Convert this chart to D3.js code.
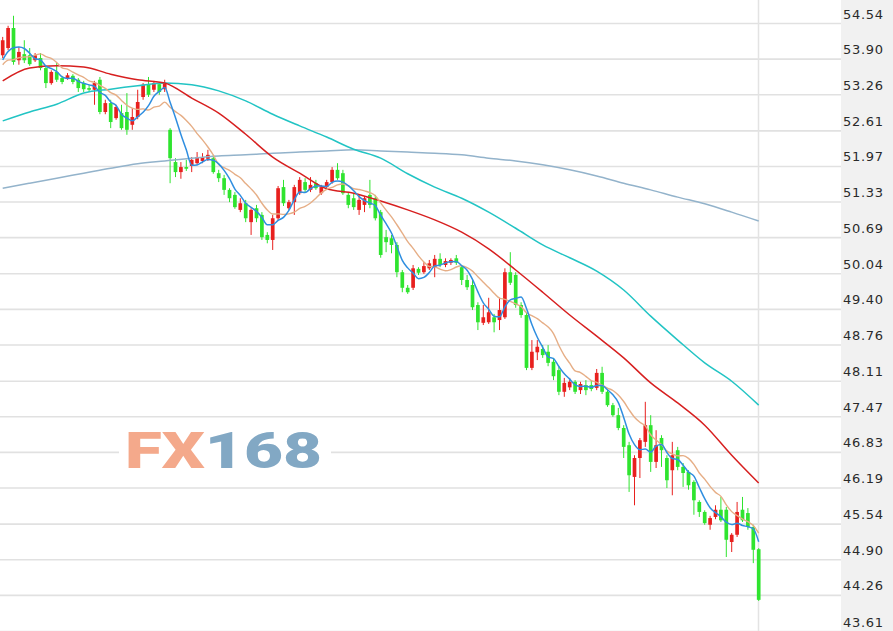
<!DOCTYPE html>
<html><head><meta charset="utf-8">
<script src="https://cdn.jsdelivr.net/npm/d3@7"></script>
<style>html,body{margin:0;padding:0;background:#fff;overflow:hidden}</style>
</head><body><svg id="c" width="893" height="631"></svg>
<script>
// ---- data ----
const yTicks = [54.54,53.90,53.26,52.61,51.97,51.33,50.69,50.04,49.40,48.76,48.11,47.47,46.83,46.19,45.54,44.90,44.26,43.61];

const open = [53.96,54.09,54.45,53.87,53.98,53.96,53.87,53.91,53.73,53.46,53.66,53.55,53.55,53.59,53.52,53.46,53.37,53.34,53.52,52.94,
53.10,52.83,52.92,52.94,52.71,52.85,53.21,53.43,53.34,53.44,53.35,52.62,52.04,51.86,51.95,51.97,52.02,52.06,52.10,52.11,
51.84,51.75,51.54,51.45,51.18,51.30,50.96,51.21,51.09,50.73,50.64,51.03,51.59,51.21,51.32,51.48,51.68,51.54,51.66,51.48,
51.59,51.68,51.90,51.84,51.45,51.39,51.18,51.27,51.45,51.39,51.14,50.69,50.67,50.55,50.06,49.78,49.78,50.12,50.06,50.13,
50.15,50.30,50.19,50.23,50.31,50.15,49.92,49.83,49.47,49.15,49.16,49.25,49.20,49.25,50.06,50.01,49.47,49.29,48.34,48.62,
48.68,48.63,48.45,48.30,47.91,47.99,48.09,47.94,48.03,48.03,47.98,48.25,47.91,47.67,47.49,47.26,46.95,46.38,46.72,47.01,
47.31,46.65,47.08,46.72,46.50,46.86,46.56,46.47,46.29,45.93,45.75,45.52,45.66,45.79,45.79,45.21,45.34,45.79,45.73,45.48,45.08];

const high = [54.29,54.49,54.67,54.11,54.23,54.09,54.00,54.00,53.77,53.69,53.82,53.59,53.64,53.62,53.55,53.50,53.43,53.50,53.57,53.16,
53.16,53.07,53.07,53.28,53.01,53.34,53.46,53.57,53.50,53.48,53.52,52.65,52.11,52.04,52.08,52.13,52.22,52.20,52.26,52.17,
51.90,51.81,51.57,51.50,51.39,51.36,51.21,51.27,51.14,50.78,51.09,51.61,51.72,51.36,51.63,51.77,51.75,51.77,51.72,51.63,
51.72,51.95,52.02,51.90,51.50,51.48,51.45,51.43,51.72,51.45,51.18,50.82,50.73,50.60,50.10,49.83,50.19,50.15,50.24,50.28,
50.37,50.40,50.31,50.31,50.37,50.19,50.01,49.92,49.52,49.47,49.60,49.31,49.60,50.13,50.42,50.06,49.52,49.34,48.84,48.84,
48.75,48.75,48.52,48.36,48.16,48.16,48.12,48.09,48.12,48.12,48.32,48.36,47.94,47.71,47.62,47.31,47.01,46.77,47.08,47.73,
47.49,47.22,47.13,46.77,47.01,46.92,46.63,46.50,46.32,45.96,45.78,45.68,45.87,46.02,45.84,45.37,45.93,46.02,45.82,45.52,45.10];

const low = [53.91,54.05,53.79,53.79,53.82,53.77,53.84,53.69,53.37,53.43,53.48,53.44,53.52,53.44,53.30,53.30,53.30,53.07,52.90,52.90,
52.65,52.80,52.62,52.53,52.62,52.81,53.16,53.21,53.30,53.25,53.30,51.66,51.77,51.74,51.88,51.86,51.99,52.02,52.06,51.83,
51.68,51.45,51.32,51.20,51.14,50.96,50.73,50.96,50.64,50.58,50.46,50.99,51.25,51.18,51.09,51.45,51.50,51.50,51.54,51.45,
51.55,51.65,51.72,51.45,51.21,51.18,51.09,51.14,51.21,50.99,50.32,50.42,50.40,49.97,49.70,49.67,49.74,50.01,50.03,50.10,
49.97,50.15,50.15,50.19,50.19,49.83,49.74,49.38,49.02,49.11,49.13,48.98,49.02,49.22,49.83,49.42,49.24,48.30,48.30,48.48,
48.52,48.37,48.12,47.85,47.82,47.94,47.87,47.87,47.85,47.92,47.94,47.87,47.64,47.46,47.22,46.72,46.11,45.87,46.36,46.92,
46.47,46.54,46.56,46.18,46.05,46.50,46.20,46.15,45.70,45.66,45.52,45.43,45.62,45.57,44.94,45.03,45.30,45.57,45.43,44.83,44.15];

const close = [54.23,54.45,53.84,54.02,53.87,53.80,53.96,53.73,53.46,53.66,53.52,53.48,53.60,53.48,53.37,53.35,53.34,53.46,52.94,53.10,
52.76,53.03,52.65,52.62,52.85,53.12,53.43,53.25,53.46,53.30,53.46,52.11,51.86,51.95,51.92,52.08,52.13,52.13,52.17,51.86,
51.75,51.54,51.39,51.23,51.30,51.03,51.18,51.03,50.69,50.64,51.03,51.57,51.30,51.32,51.59,51.72,51.54,51.63,51.57,51.59,
51.68,51.90,51.75,51.48,51.27,51.23,51.36,51.39,51.27,51.03,50.37,50.60,50.55,50.06,49.78,49.70,50.13,50.05,50.17,50.22,
50.30,50.19,50.26,50.28,50.23,49.92,49.79,49.43,49.16,49.25,49.34,49.16,49.38,50.06,49.87,49.47,49.29,48.34,48.63,48.72,
48.57,48.43,48.19,47.91,48.07,48.09,47.91,48.05,47.94,47.96,48.25,47.91,47.67,47.49,47.26,46.92,46.41,46.72,47.04,47.31,
46.65,46.95,46.86,46.32,46.77,46.56,46.45,46.23,45.96,45.75,45.55,45.64,45.79,45.60,45.25,45.34,45.75,45.60,45.48,45.07,44.17];

// closes before the visible window, estimated from where the short averages start
const priorCloses = [53.62,53.75,53.68,53.74,53.73,53.70,53.50,53.95,54.00];

// long averages, read every 5th bar
const maStep = 5;
const ma30 = [53.50,53.73,53.77,53.75,53.62,53.52,53.46,53.19,52.92,52.54,52.13,51.84,51.56,51.48,51.34,51.18,51.00,50.78,50.48,50.10,
49.70,49.29,48.91,48.52,48.07,47.71,47.31,46.77,46.27];
const ma60 = [52.78,52.94,53.08,53.28,53.35,53.41,53.46,53.43,53.32,53.14,52.90,52.69,52.49,52.27,52.11,51.83,51.59,51.39,51.14,50.85,
50.55,50.32,50.08,49.74,49.27,48.84,48.43,48.10,47.67];
const ma120 = [51.57,51.66,51.75,51.84,51.93,52.01,52.06,52.11,52.15,52.17,52.20,52.22,52.24,52.26,52.24,52.22,52.20,52.17,52.11,52.06,
51.99,51.90,51.79,51.66,51.54,51.41,51.29,51.14,50.98];

// ---- drawing ----
const svg = d3.select('#c');
const n = close.length;
const x = d3.scaleBand().domain(d3.range(n)).range([0, 761.4]).padding(0);
const y = d3.scaleLinear().domain([43.61, 54.54]).range([631, 23]);
const cx = i => x(i) + x.bandwidth() / 2;

svg.append('rect').attr('x',0).attr('y',0).attr('width',893).attr('height',631).attr('fill','#fff');
svg.append('rect').attr('x',841).attr('y',0).attr('width',52).attr('height',631).attr('fill','#f1f1f1');

const axis = d3.axisRight(y).tickValues(yTicks).tickSize(841).tickPadding(2).tickFormat(d3.format('.2f'));
const gA = svg.append('g').call(axis);
gA.select('.domain').remove();
gA.selectAll('line').attr('stroke','#e1e1e1').attr('stroke-width',1.6);
gA.selectAll('text').attr('dy',null).attr('y',-5).attr('fill','#2a2a2a')
  .style('font-family','"DejaVu Sans", Verdana, sans-serif').style('font-size','13px').style('letter-spacing','0.7px');

svg.append('line').attr('x1',758.5).attr('x2',758.5).attr('y1',0).attr('y2',631)
  .attr('stroke','#e3e3e3').attr('stroke-width',1.5);

// watermark
const wm = svg.append('g');
wm.append('rect').attr('x',119).attr('y',428).attr('width',212).attr('height',46).attr('fill','#fff');
const wt = wm.append('text').attr('x',125).attr('y',468)
  .attr('textLength',197).attr('lengthAdjust','spacingAndGlyphs')
  .style('font-family','Roboto, "DejaVu Sans", sans-serif').style('font-weight','900').style('font-size','50px');
wt.append('tspan').attr('fill','#f4a98b').text('FX');
wt.append('tspan').attr('fill','#82a8c4').text('168');

// candles
const upC = '#e8201e', dnC = '#2fe42f';
const bw = 3.7;
const cg = svg.append('g');
d3.range(n).forEach(i => {
  const col = close[i] >= open[i] ? upC : dnC;
  cg.append('line').attr('x1',cx(i)).attr('x2',cx(i)).attr('y1',y(high[i])).attr('y2',y(low[i]))
    .attr('stroke',col).attr('stroke-width',1);
  const top = y(Math.max(open[i],close[i])), bot = y(Math.min(open[i],close[i]));
  cg.append('rect').attr('x',cx(i)-bw/2).attr('y',top).attr('width',bw).attr('height',Math.max(1.2,bot-top)).attr('fill',col);
});

// moving averages
const allC = priorCloses.concat(close);
function movAvg(k){ return close.map((c,i)=>{ const j=i+priorCloses.length; return d3.mean(allC.slice(j-k+1,j+1)); }); }
const ma5 = movAvg(5), ma10 = movAvg(10);

const lineDense = d3.line().x((d,i)=>cx(i)).y(d=>y(d)).curve(d3.curveMonotoneX);
const lineSparse = d3.line().x((d,i)=>cx(i*maStep)).y(d=>y(d)).curve(d3.curveMonotoneX);

const lg = svg.append('g').attr('fill','none');
lg.append('path').attr('d',lineSparse(ma120)).attr('stroke','#93b3cb').attr('stroke-width',1.5);
lg.append('path').attr('d',lineSparse(ma60)).attr('stroke','#22c4c4').attr('stroke-width',1.5);
lg.append('path').attr('d',lineSparse(ma30)).attr('stroke','#d71f1f').attr('stroke-width',1.5);
lg.append('path').attr('d',lineDense(ma10)).attr('stroke','#e6ae86').attr('stroke-width',1.4);
lg.append('path').attr('d',lineDense(ma5)).attr('stroke','#2f8ee0').attr('stroke-width',1.5);
</script></body></html>
